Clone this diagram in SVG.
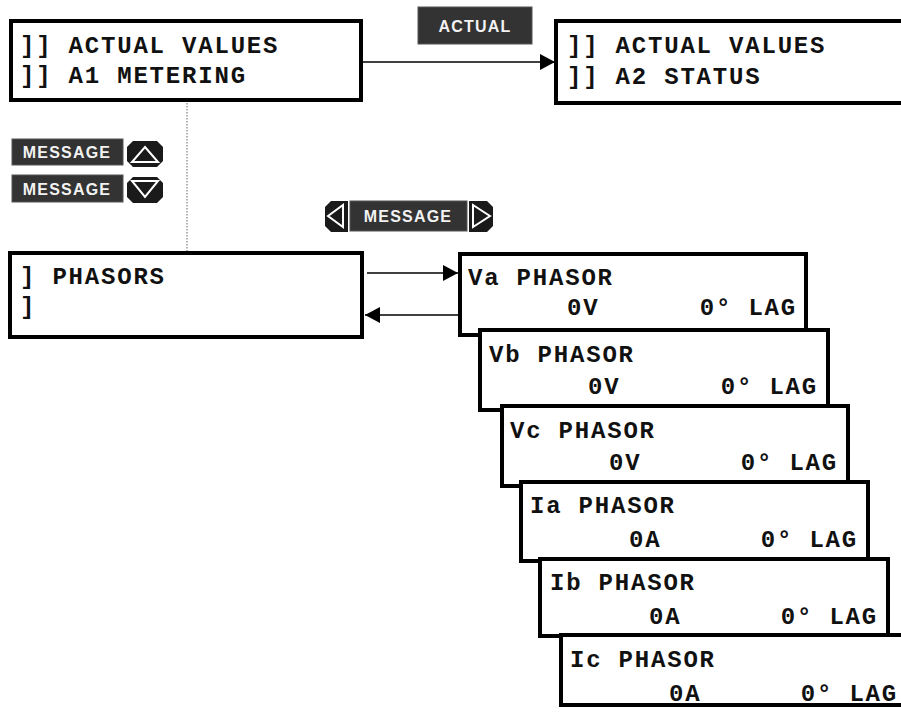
<svg xmlns="http://www.w3.org/2000/svg" width="901" height="717" viewBox="0 0 901 717">
  <style>
    .box { fill: #fff; stroke: #000; stroke-width: 4; }
    .lcd { font-family: "Courier New", "Liberation Mono", monospace; font-weight: bold; font-size: 24px; letter-spacing: 1.8px; fill: #111; }
    .end { text-anchor: end; }
    .key { fill: #333; stroke: #555; stroke-width: 1; }
    .oct { fill: #1a1a1a; }
    .keytxt { font-family: "Liberation Sans", Arial, sans-serif; font-weight: bold; font-size: 16px; fill: #f2f2f2; text-anchor: middle; letter-spacing: 1.2px; }
    .tri { fill: none; stroke: #fff; stroke-width: 2; stroke-linejoin: miter; }
    .wire { stroke: #000; stroke-width: 1.6; fill: none; }
    .dots { stroke: #666; stroke-width: 1; stroke-dasharray: 1.5 1.5; fill: none; }
  </style>
  <defs>
    <marker id="head" viewBox="0 0 15 16" refX="15" refY="8" markerWidth="15" markerHeight="16" markerUnits="userSpaceOnUse" orient="auto">
      <path d="M0,0 L15,8 L0,16 Z" fill="#000"/>
    </marker>
  </defs>

  <!-- connectors -->
  <g id="connectors">
    <line class="dots" x1="187" y1="103" x2="187" y2="251"/>
    <line class="wire" x1="363" y1="62" x2="555" y2="62" marker-end="url(#head)"/>
    <line class="wire" x1="367" y1="273" x2="458" y2="273" marker-end="url(#head)"/>
    <line class="wire" x1="458" y1="315" x2="365" y2="315" marker-end="url(#head)"/>
  </g>

  <!-- keypad legends -->
  <g id="key-actual">
    <rect class="key" x="418" y="7" width="114" height="37"/>
    <text class="keytxt" x="475" y="32">ACTUAL</text>
  </g>
  <g id="key-message-up">
    <rect class="key" x="12" y="139" width="111" height="26"/>
    <text class="keytxt" x="67" y="158">MESSAGE</text>
    <path class="oct" d="M133,141 H157 L163,147 V161 L157,167 H133 L127,161 V147 Z"/>
    <path class="tri" d="M145,147 L158,162 H132 Z"/>
  </g>
  <g id="key-message-down">
    <rect class="key" x="12" y="175" width="111" height="27"/>
    <text class="keytxt" x="67" y="195">MESSAGE</text>
    <path class="oct" d="M133,177 H157 L163,183 V197 L157,203 H133 L127,197 V183 Z"/>
    <path class="tri" d="M132,181 H158 L145,197 Z"/>
  </g>
  <g id="key-message-leftright">
    <path class="oct" d="M331,201 H348 V232 H331 L325,226 V207 Z"/>
    <path class="tri" d="M328,216 L343,205 V227 Z"/>
    <rect class="key" x="350" y="201" width="117" height="30"/>
    <text class="keytxt" x="408" y="222">MESSAGE</text>
    <path class="oct" d="M469,201 H487 L493,207 V226 L487,232 H469 Z"/>
    <path class="tri" d="M490,216 L473,205 V227 Z"/>
  </g>

  <!-- menu screens -->
  <g id="a1-metering">
    <rect class="box" x="11" y="21" width="350" height="79"/>
    <text class="lcd" x="20" y="53">]] ACTUAL VALUES</text>
    <text class="lcd" x="20" y="83">]] A1 METERING</text>
  </g>
  <g id="a2-status">
    <rect class="box" x="556" y="21" width="350" height="82"/>
    <text class="lcd" x="567" y="53">]] ACTUAL VALUES</text>
    <text class="lcd" x="567" y="84">]] A2 STATUS</text>
  </g>
  <g id="phasors">
    <rect class="box" x="10" y="253" width="352" height="84"/>
    <text class="lcd" x="20" y="284">] PHASORS</text>
    <text class="lcd" x="20" y="314">]</text>
  </g>

  <g id="va-phasor">
    <rect class="box" x="460" y="254" width="346" height="81"/>
    <text class="lcd" x="468" y="285">Va PHASOR</text>
    <text class="lcd" x="567" y="315">0V</text>
    <text class="lcd end" x="797" y="315">0° LAG</text>
  </g>
  <g id="vb-phasor">
    <rect class="box" x="480" y="330" width="348" height="80"/>
    <text class="lcd" x="489" y="362">Vb PHASOR</text>
    <text class="lcd" x="588" y="394">0V</text>
    <text class="lcd end" x="818" y="394">0° LAG</text>
  </g>
  <g id="vc-phasor">
    <rect class="box" x="502" y="406" width="346" height="80"/>
    <text class="lcd" x="510" y="438">Vc PHASOR</text>
    <text class="lcd" x="609" y="470">0V</text>
    <text class="lcd end" x="838" y="470">0° LAG</text>
  </g>
  <g id="ia-phasor">
    <rect class="box" x="521" y="482" width="347" height="79"/>
    <text class="lcd" x="530" y="513">Ia PHASOR</text>
    <text class="lcd" x="629" y="547">0A</text>
    <text class="lcd end" x="858" y="547">0° LAG</text>
  </g>
  <g id="ib-phasor">
    <rect class="box" x="540" y="559" width="348" height="77"/>
    <text class="lcd" x="550" y="590">Ib PHASOR</text>
    <text class="lcd" x="649" y="624">0A</text>
    <text class="lcd end" x="878" y="624">0° LAG</text>
  </g>
  <g id="ic-phasor">
    <rect class="box" x="561" y="635" width="348" height="70"/>
    <text class="lcd" x="570" y="667">Ic PHASOR</text>
    <text class="lcd" x="669" y="701">0A</text>
    <text class="lcd end" x="898" y="701">0° LAG</text>
  </g>
</svg>
